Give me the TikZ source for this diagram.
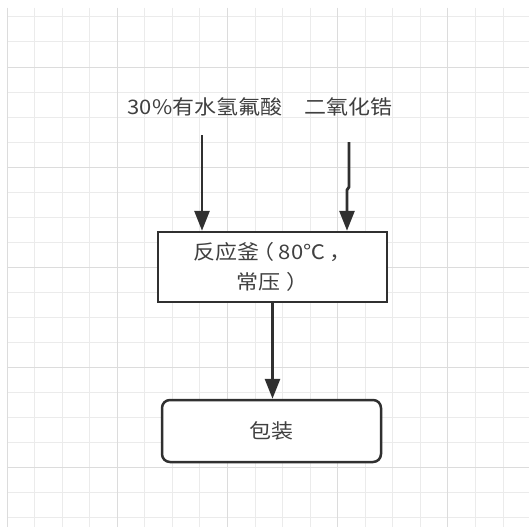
\documentclass[tikz,border=0pt]{standalone}
\usepackage{fontspec}
\setmainfont{Noto Sans CJK SC}
\usetikzlibrary{arrows.meta}
\definecolor{gridminor}{HTML}{EBEBEB}
\definecolor{gridmajor}{HTML}{DCDCDC}
\definecolor{ink}{HTML}{303030}
\definecolor{txt}{HTML}{404040}
\newcommand{\wtext}[1]{\scalebox{1.1}[1]{#1}}
\begin{document}
\begin{tikzpicture}[x=1pt,y=-1pt,
  lbl/.style={text=txt,font=\fontsize{20}{30}\selectfont,inner sep=0pt},
  boxnode/.style={draw=ink,line width=2.5pt,fill=white,text=txt,
    font=\fontsize{20}{30}\selectfont,align=center,inner sep=0pt},
  arr/.style={draw=ink,line width=2.8pt,-{Triangle[length=20pt,width=15pt]}}]
\useasboundingbox (0,0) rectangle (529,527);
\fill[white] (0,0) rectangle (529,527);
% grid
\foreach \k in {0,...,19}{
  \pgfmathsetmacro\xx{7+27.56*\k}
  \draw[gridminor,line width=1pt] (\xx,8) -- (\xx,527);
}
\foreach \k in {0,...,20}{
  \pgfmathsetmacro\yy{17+25*\k}
  \draw[gridminor,line width=1pt] (7,\yy) -- (529,\yy);
}
\foreach \k in {0,4,8,12,16}{
  \pgfmathsetmacro\xx{7+27.56*\k}
  \draw[gridmajor,line width=1pt] (\xx,8) -- (\xx,527);
}
\foreach \yy in {67,167,267,367,467}{
  \draw[gridmajor,line width=1pt] (7,\yy) -- (529,\yy);
}
% labels
\node[lbl] (hf) at (205,107) {\wtext{30\%有水氢氟酸}};
\node[lbl] (zr) at (348,107) {\wtext{二氧化锆}};
% boxes
\node[boxnode,minimum width=229pt,minimum height=70pt] (reac) at (272.5,267)
  {\wtext{反应釜\hspace{-6pt}（\hspace{4pt}80℃\hspace{4pt}，}\\\wtext{常压\hspace{5pt}）}};
\node[boxnode,rounded corners=8pt,minimum width=219pt,minimum height=62pt] (pack) at (271.5,431)
  {\wtext{包装}};
% connectors
\coordinate (s1) at (202,135);
\draw[arr] (s1) -- (s1 |- reac.north);
\coordinate (s2) at (349,142);
\coordinate (j1) at (349,187);
\coordinate (j2) at (347,190);
\draw[arr] (s2) -- (j1) -- (j2) -- (j2 |- reac.north);
\draw[arr] (reac.south) -- (reac.south |- pack.north);
\end{tikzpicture}
\end{document}
